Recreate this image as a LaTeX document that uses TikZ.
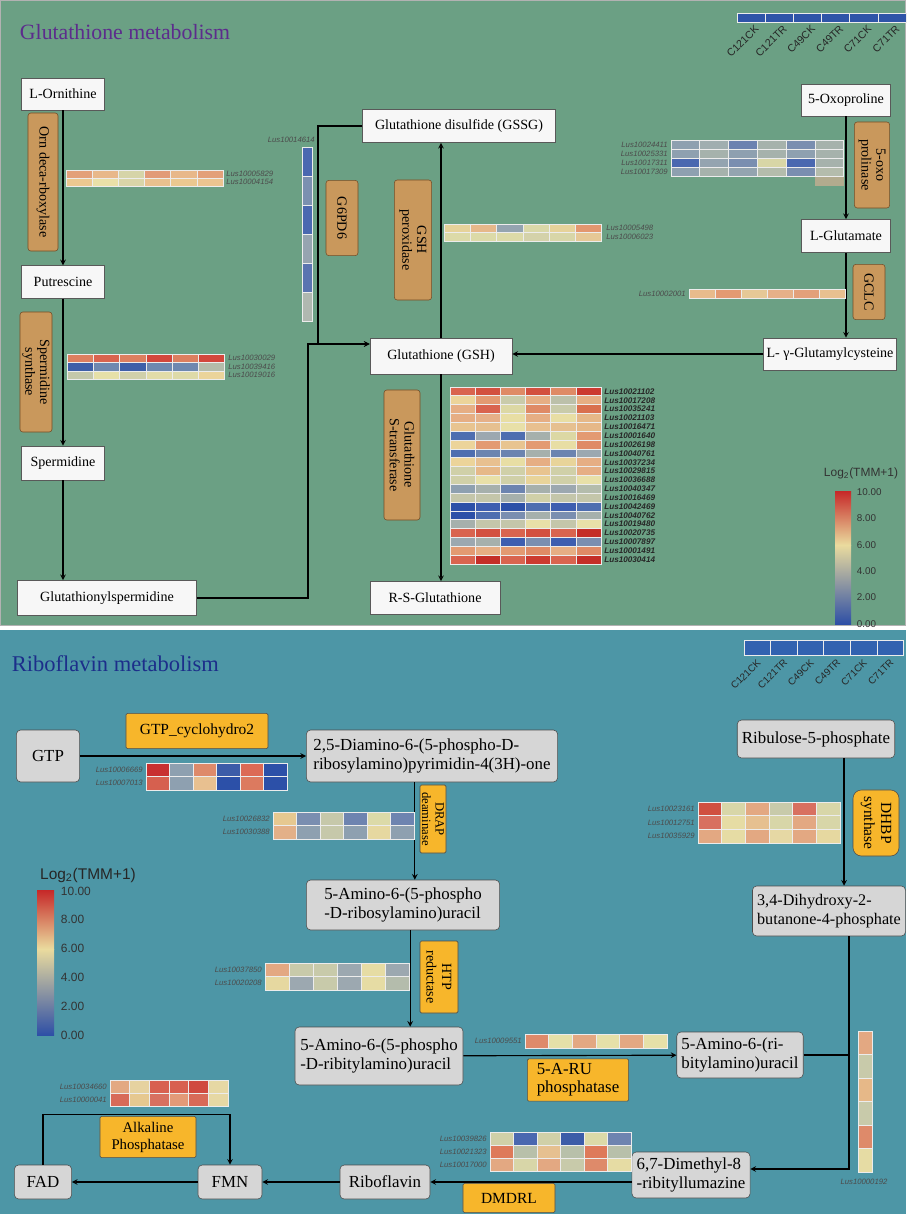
\documentclass[tikz,border=0pt]{standalone}
\usepackage{fontspec}
\setmainfont{Liberation Serif}
\setsansfont{Liberation Sans}
\usetikzlibrary{arrows,positioning}

\definecolor{gbg}{RGB}{107,160,132}
\definecolor{bbg}{RGB}{77,150,166}
\definecolor{enzbrown}{RGB}{201,152,92}
\definecolor{enzorange}{RGB}{247,182,43}
\definecolor{hdblue}{HTML}{2E54A8}
\definecolor{ttlpurple}{RGB}{92,44,140}
\definecolor{ttlblue}{RGB}{28,46,138}
\definecolor{lgred}{HTML}{C62828}
\definecolor{lgora}{HTML}{E0845E}
\definecolor{lgyel}{HTML}{EADB9E}
\definecolor{lggray}{HTML}{A9B2B0}
\definecolor{lgblue}{HTML}{2E4FA6}

\tikzstyle{metab} = [rectangle, draw=gray!70!black, fill=white!94!gray, font=\fontsize{10}{12}\selectfont, inner sep=2pt]
\tikzstyle{enzyme} = [rectangle, rounded corners=2pt, draw=brown!60!black, fill=enzbrown, rotate=-90, align=center, font=\fontsize{10}{10.5}\selectfont, inner sep=1pt]
\tikzstyle{metabb} = [rectangle, rounded corners=3pt, draw=gray!60!black, fill=gray!32, align=left, font=\fontsize{12}{13.5}\selectfont]
\tikzstyle{enzymeb} = [rectangle, rounded corners=1pt, draw=gray!60!black, fill=enzorange, align=left, font=\fontsize{11}{12}\selectfont]
\tikzstyle{arrow} = [thick,->,>=stealth]
\tikzstyle{link} = [thick]
\tikzstyle{hmline} = [draw=white!85!gray, line width=0.5pt]
\tikzstyle{lab} = [font=\sffamily\itshape\fontsize{5.5}{6}\selectfont, text=black!70, inner sep=0pt]
\tikzstyle{gstlab} = [font=\sffamily\bfseries\itshape\fontsize{5.8}{6}\selectfont, text=black!85, inner sep=0pt, anchor=west]
\tikzstyle{colhead} = [font=\sffamily\fontsize{7.5}{8}\selectfont, text=black!85, rotate=45, anchor=east, inner sep=0pt]
\tikzstyle{legnum} = [font=\sffamily\fontsize{7}{8}\selectfont, text=black!80, anchor=west, inner sep=0.5pt]

\newcommand{\hmrow}[5]{%
  \edef\hmlist{#5}%
  \foreach \hc [count=\hi from 0] in \hmlist {%
    \definecolor{hmc}{HTML}{\hc}%
    \fill[hmc] ({#1+\hi*#3},{#2}) rectangle ++(#3,#4);
    \draw[hmline] ({#1+\hi*#3},{#2}) rectangle ++(#3,#4);
  }}
\newcommand{\hmcol}[5]{%
  \edef\hmlist{#5}%
  \foreach \hc [count=\hi from 0] in \hmlist {%
    \definecolor{hmc}{HTML}{\hc}%
    \fill[hmc] ({#1},{#2+\hi*#4}) rectangle ++(#3,#4);
    \draw[hmline] ({#1},{#2+\hi*#4}) rectangle ++(#3,#4);
  }}

\begin{document}
\begin{tikzpicture}[x=0.025cm, y=-0.025cm]
    \useasboundingbox (0,0) rectangle (906,1214);
    \fill[white] (0,0) rectangle (906,1214);
    \fill[gbg] (0,0) rectangle (906,626);
    \draw[gray!60, line width=0.6pt] (0.5,0.5) rectangle (905.5,625.5);
    \fill[bbg] (0,630) rectangle (906,1214);

    % Glutathione metabolism
    \node (ttop) [anchor=west, text=ttlpurple, font=\fontsize{15.5}{17}\selectfont] at (15,32) {Glutathione metabolism};
    \hmrow{737}{13}{28.2}{9}{2E54A8,2E54A8,2E54A8,2E54A8,2E54A8,2E54A8}
    \foreach \t [count=\ti from 0] in {C121CK,C121TR,C49CK,C49TR,C71CK,C71TR}
        \node (hta\ti) [colhead] at ({757+\ti*28.2},27) {\t};

    \node (orn) [metab, minimum width=2.08cm, minimum height=0.8cm] at (63,94) {L-Ornithine};
    \node (put) [metab, minimum width=2.08cm, minimum height=0.82cm] at (63,282) {Putrescine};
    \node (spd) [metab, minimum width=2.08cm, minimum height=0.85cm] at (63,463) {Spermidine};
    \node (gsp) [metab, minimum width=4.48cm, minimum height=0.88cm] at (107,598) {Glutathionylspermidine};
    \node (gssg) [metab, minimum width=4.83cm, minimum height=0.83cm] at (459,126) {Glutathione disulfide (GSSG)};
    \node (gsh) [metab, minimum width=3.55cm, minimum height=0.9cm] at (441,356) {Glutathione (GSH)};
    \node (rsg) [metab, minimum width=3.25cm, minimum height=0.83cm] at (435,598) {R-S-Glutathione};
    \node (oxo) [metab, minimum width=2.23cm, minimum height=0.8cm] at (846,100) {5-Oxoproline};
    \node (glu) [metab, minimum width=2.23cm, minimum height=0.83cm] at (846,236) {L-Glutamate};
    \node (gcys) [metab, minimum width=3.13cm, minimum height=0.8cm] at (830,354) {L- γ-Glutamylcysteine};

    \node (ornd) [enzyme, minimum width=3.45cm, minimum height=0.75cm] at (43,182) {Orn deca-rboxylase};
    \node (spds) [enzyme, minimum width=3cm, minimum height=0.8cm] at (36,372) {Spermidine\\synthase};
    \node (g6pd) [enzyme, minimum width=1.88cm, minimum height=0.8cm] at (342,218) {G6PD6};
    \node (gpx) [enzyme, minimum width=3cm, minimum height=0.93cm] at (413,240) {GSH\\peroxidase};
    \node (gstr) [enzyme, minimum width=3.25cm, minimum height=0.9cm] at (402,455) {Glutathione\\S-transferase};
    \node (oxop) [enzyme, minimum width=2.15cm, minimum height=0.88cm] at (872,165) {5-oxo\\prolinase};
    \node (gclc) [enzyme, minimum width=1.38cm, minimum height=0.8cm] at (869,292) {GCLC};

    \draw[arrow] (orn) -- (put);
    \draw[arrow] (put) -- (spd);
    \draw[arrow] (spd) -- (spd |- gsp.north);
    \coordinate (gk) at (308,344);
    \coordinate (gr) at (318,344);
    \draw[arrow] (gsp.east) -| (gk) -- (gk -| gsh.west);
    \draw[arrow] (gssg.west) -| (gr) -- (gr -| gsh.west);
    \draw[arrow] (gsh.north) -- (gsh.north |- gssg.south);
    \draw[arrow] (gsh.south) -- (gsh.south |- rsg.north);
    \draw[arrow] (oxo) -- (glu);
    \draw[arrow] (glu) -- (glu |- gcys.north);
    \draw[arrow] (gcys) -- (gcys -| gsh.east);

    \hmrow{66}{170}{26.2}{8}{E3A07A,E8B88A,D6D4A8,E29A78,E8B88A,E3A07A}
    \hmrow{66}{178}{26.2}{8}{EBC890,EAE0A8,D9D5A8,E9C08E,EBC890,EBC490}
    \node (la1) [lab, anchor=west] at (226,174) {Lus10005829};
    \node (la2) [lab, anchor=west] at (226,182) {Lus10004154};

    \hmrow{67}{354}{26.3}{8.5}{DD7F5F,D9644F,DD7F5F,D3473C,DD7F5F,D3473C}
    \hmrow{67}{362.5}{26.3}{8.5}{3E5FA8,6E88B0,3E5FA8,6E88B0,6E88B0,B4BCAA}
    \hmrow{67}{371}{26.3}{8.5}{C4C8AA,E6E0A8,D0D0AA,E2DCA8,DEDAA8,EBD49A}
    \node (lb1) [lab, anchor=west] at (228,358) {Lus10030029};
    \node (lb2) [lab, anchor=west] at (228,366.5) {Lus10039416};
    \node (lb3) [lab, anchor=west] at (228,375) {Lus10019016};

    \hmcol{302}{147}{10}{29}{4A68B0,7B90B0,4A68B0,96A4B0,5A74B0,B0B8B0}
    \node (lc1) [lab, anchor=east] at (315,140) {Lus10014614};

    \hmrow{671}{140}{28.8}{9}{8EA0B0,A0AEB0,6C82B0,A6B2AC,7A8EB0,A6B2AC}
    \hmrow{671}{149}{28.8}{9}{8EA0B0,A6B2AC,8EA0B0,A6B2AC,8EA0B0,A6B2AC}
    \hmrow{671}{158}{28.8}{9}{4A68B0,94A4B0,7A8EB0,D8D6A6,4A68B0,A6B2AC}
    \hmrow{671}{167}{28.8}{9}{8EA0B0,A6B2AC,94A4B0,B4BCAC,7A8EB0,B4BCAC}
    \fill[gray!40!lgyel!80!gray] (815,177) rectangle (844,186);
    \node (ld1) [lab, anchor=east] at (668,144.5) {Lus10024411};
    \node (ld2) [lab, anchor=east] at (668,153.5) {Lus10025331};
    \node (ld3) [lab, anchor=east] at (668,162.5) {Lus10017311};
    \node (ld4) [lab, anchor=east] at (668,171.5) {Lus10017309};

    \hmrow{444}{224}{26.3}{8.5}{E6D29A,E6B88A,94A4B0,DAD8A8,E6D29A,E3976F}
    \hmrow{444}{232.5}{26.3}{8.5}{DCDAA8,DCDAA8,DCDAA8,D4D2AA,D8D6A8,E6C896}
    \node (le1) [lab, anchor=west] at (606,228) {Lus10005498};
    \node (le2) [lab, anchor=west] at (606,237) {Lus10006023};

    \hmrow{689}{289}{26}{9}{E8BB8C,E39A72,E6C896,E6B088,E3A07A,E8C090}
    \node (lf1) [lab, anchor=east] at (686,293.5) {Lus10002001};

    \foreach \gr [count=\gri from 0] in {{D9644F,D3503F,DF8A66,D3503F,DF8A66,CC3A30},
        {ECD49A,E39A72,C9CBAA,E6AE84,BCC0AA,E6AE84},{E6AE84,D9644F,DCD8A4,DF8A66,C9CBAA,D9704F},
        {E6AE84,E6B088,E8DEA4,E6AE84,E8DEA4,E6B888},{E8C490,E6C090,E8E0A8,E8C090,E6C090,E6B888},
        {4E6EB0,9CA8B0,4E6EB0,A6B0AC,DCD8A4,E39A72},{ECD49A,E39A72,E8C490,E39A72,E8DEA4,DF8A66},
        {4E6EB0,6C84B0,6C84B0,A6B0AC,6C84B0,9CA8B0},{ECD49A,E8C090,E8DEA4,E6AE84,E8D49A,E6AE84},
        {D0D0A8,E6B888,D0D0A8,E8C490,D0D0A8,E6AE84},{D0D0A8,E8E0A8,D0D0A8,E8D49A,D0D0A8,E8E0A8},
        {8EA0B0,A6B0AC,6C84B0,A6B0AC,9CA8B0,B4BCAC},{C4C6AA,C4C6AA,A6B0AC,D0D0A8,C4C6AA,C4C6AA},
        {2C50A8,3E5EB0,2C50A8,4E6EB0,3E5EB0,4E6EB0},{2C50A8,4E6EB0,7A8EB0,A6B0AC,7A8EB0,A6B0AC},
        {A6B0AC,C4C6AA,C4C6AA,E8E0A8,C4C6AA,E8E0A8},{D9644F,D3503F,D9644F,D3503F,D9644F,C42E28},
        {9CA8B0,A6B0AC,3E5EB0,7A8EB0,3E5EB0,7A8EB0},{E39A72,E6AE84,E39A72,DF8A66,E6AE84,DF8A66},
        {D9644F,C42E28,D9644F,CC3A30,D9644F,C42E28}}
        \hmrow{450}{387+\gri*8.85}{25.2}{8.85}{\gr};
    \foreach \g [count=\gi from 0] in {Lus10021102,Lus10017208,Lus10035241,Lus10021103,Lus10016471,
        Lus10001640,Lus10026198,Lus10040761,Lus10037234,Lus10029815,Lus10036688,Lus10040347,
        Lus10016469,Lus10042469,Lus10040762,Lus10019480,Lus10020735,Lus10007897,Lus10001491,Lus10030414}
        \node (gl\gi) [gstlab] at (604,{391.4+\gi*8.85}) {\g};

    \node (lgt) [font=\sffamily\fontsize{8.5}{9}\selectfont, text=black!80] at (861,473) {Log\textsubscript{2}(TMM+1)};
    \shade[top color=lgred, middle color=lgora, bottom color=lgyel] (835,491) rectangle (851,545);
    \shade[top color=lgyel, middle color=lggray, bottom color=lgblue] (835,545) rectangle (851,624);
    \foreach \v [count=\vi from 0] in {10.00,8.00,6.00,4.00,2.00,0.00}
        \node (lv\vi) [legnum] at (856,{492+\vi*26.4}) {\v};

    % Riboflavin metabolism
    \node (tbot) [anchor=west, text=ttlblue, font=\fontsize{16}{18}\selectfont] at (7,664) {Riboflavin metabolism};
    \hmrow{744}{640}{26.6}{15}{3262B0,3262B0,3262B0,3262B0,3262B0,3262B0}
    \foreach \t [count=\ti from 0] in {C121CK,C121TR,C49CK,C49TR,C71CK,C71TR}
        \node (htb\ti) [colhead, font=\sffamily\fontsize{7}{7}\selectfont] at ({759+\ti*26.6},661) {\t};

    \node (gtp) [metabb, minimum width=1.58cm, minimum height=1.3cm] at (48,756) {GTP};
    \node (dap) [metabb, minimum width=6.28cm, minimum height=1.3cm] at (432,756) {2,5-Diamino-6-(5-phospho-D-\\ribosylamino)pyrimidin-4(3H)-one};
    \node (rul) [metabb, minimum width=3.83cm, minimum height=0.95cm] at (816,739) {Ribulose-5-phosphate};
    \node (arp) [metabb, minimum width=4.83cm, minimum height=1.25cm] at (403,905) {5-Amino-6-(5-phospho\\-D-ribosylamino)uracil};
    \node (dhbp) [metabb, minimum width=3.8cm, minimum height=1.25cm, font=\fontsize{11.5}{13}\selectfont] at (829,911) {3,4-Dihydroxy-2-\\butanone-4-phosphate};
    \node (arpu) [metabb, minimum width=4.2cm, minimum height=1.45cm] at (379,1056) {5-Amino-6-(5-phospho\\-D-ribitylamino)uracil};
    \node (aru) [metabb, minimum width=3.05cm, minimum height=1.15cm] at (740,1055) {5-Amino-6-(ri-\\bitylamino)uracil};
    \node (dmrl) [metabb, minimum width=2.73cm, minimum height=1.15cm] at (691,1175) {6,7-Dimethyl-8\\-ribityllumazine};
    \node (rib) [metabb, minimum width=2.25cm, minimum height=0.85cm] at (385,1182) {Riboflavin};
    \node (fmn) [metabb, minimum width=1.6cm, minimum height=0.85cm] at (230,1182) {FMN};
    \node (fad) [metabb, minimum width=1.43cm, minimum height=0.85cm] at (43,1182) {FAD};

    \node (gtpc) [enzymeb, minimum width=3.55cm, minimum height=0.88cm] at (197,731) {GTP\_cyclohydro2};
    \node (drap) [enzymeb, rotate=-90, align=center, minimum width=1.7cm, minimum height=0.65cm, inner sep=1pt, font=\fontsize{9}{9.5}\selectfont] at (433,819) {DRAP\\deaminase};
    \node (dhbps) [enzymeb, rotate=-90, align=center, rounded corners=6pt, minimum width=1.65cm, minimum height=1.15cm] at (876,823) {DHBP\\synthase};
    \node (htp) [enzymeb, rotate=-90, align=center, minimum width=1.8cm, minimum height=0.95cm, font=\fontsize{10}{11}\selectfont] at (439,977) {HTP\\reductase};
    \node (aruph) [enzymeb, minimum width=2.53cm, minimum height=0.98cm, font=\fontsize{12}{13}\selectfont] at (578,1080) {5-A-RU\\phosphatase};
    \node (alkp) [enzymeb, align=center, minimum width=2.4cm, minimum height=1.03cm, font=\fontsize{10.5}{12}\selectfont] at (148,1137) {Alkaline\\Phosphatase};
    \node (dmdrl) [enzymeb, minimum width=2.3cm, minimum height=0.73cm] at (509,1198) {DMDRL};

    \draw[arrow] (gtp) -- (dap);
    \draw[arrow] ([xshift=-0.43cm]dap.south) -- ([xshift=-0.43cm]dap.south |- arp.north);
    \draw[arrow] ([xshift=0.18cm]arp.south) -- ([xshift=0.18cm]arp.south |- arpu.north);
    \draw[arrow] (arpu) -- (aru);
    \draw[arrow] ([xshift=0.7cm]rul.south) -- ([xshift=0.7cm]rul.south |- dhbp.north);
    \coordinate (dj) at ([xshift=0.5cm]dhbp.south);
    \draw[arrow] (dj) |- ([yshift=0.15cm]dmrl.east);
    \draw[link] (aru) -- (aru -| dj);
    \draw[arrow] (dmrl.west |- rib) -- (rib);
    \draw[arrow] (rib) -- (fmn);
    \draw[arrow] (fmn) -- (fad);
    \draw[arrow] (fad.north) |- ([yshift=1pt]alkp.north) -| (fmn.north);

    \hmrow{146}{763}{23.5}{13.5}{C83030,8EA0B0,DE8A6A,3C5CA8,DC6A55,2C50A8}
    \hmrow{146}{776.5}{23.5}{13.5}{D6604F,8EA0B0,E8C090,2C50A8,DC7A5F,2C50A8}
    \node (lg1) [lab, anchor=east] at (143,770) {Lus10006669};
    \node (lg2) [lab, anchor=east] at (143,783) {Lus10007013};

    \hmrow{273}{812}{23.5}{13.5}{E6C890,7A8EB0,C6C8AA,6E84B0,DCDAA8,6E84B0}
    \hmrow{273}{825.5}{23.5}{13.5}{E3B088,8EA0B0,C6C8AA,8EA0B0,E6D8A0,8EA0B0}
    \node (lh1) [lab, anchor=east] at (270,819) {Lus10026832};
    \node (lh2) [lab, anchor=east] at (270,832) {Lus10030388};

    \hmrow{698}{802}{23.7}{13.7}{D05040,D8D6A8,E3A882,C8CAAA,D87060,D8D6A8}
    \hmrow{698}{815.7}{23.7}{13.7}{D87060,E6DCA4,E6C090,D8D6A8,E3A882,D8D6A8}
    \hmrow{698}{829.4}{23.7}{13.7}{E3A882,E6DCA4,E3A882,E6D8A4,E3A882,E6D8A0}
    \node (li1) [lab, anchor=east] at (695,809) {Lus10023161};
    \node (li2) [lab, anchor=east] at (695,822.5) {Lus10012751};
    \node (li3) [lab, anchor=east] at (695,836) {Lus10035929};

    \hmrow{265}{963}{24}{13.5}{E3A882,C8CAAA,C8CAAA,9CA8B0,E6DCA4,9CA8B0}
    \hmrow{265}{976.5}{24}{13.5}{E6D8A0,9CA8B0,C8CAAA,9CA8B0,E6DCA4,B4BCAC}
    \node (lj1) [lab, anchor=east] at (262,970) {Lus10037850};
    \node (lj2) [lab, anchor=east] at (262,983) {Lus10020208};

    \hmrow{525}{1034}{23.7}{14}{DE8A6A,E6E0A8,E3A882,E6E0A8,E3A882,E6E0A8}
    \node (lk1) [lab, anchor=east] at (522,1041) {Lus10009551};

    \hmrow{110}{1080}{19.7}{13}{E3A882,E6D2A0,D86050,D86050,D04A40,E6D8A4}
    \hmrow{110}{1093}{19.7}{13}{D86A58,E6C890,D87060,E39A78,D86A58,E6D8A4}
    \node (ll1) [lab, anchor=east] at (107,1086.5) {Lus10034660};
    \node (ll2) [lab, anchor=east] at (107,1099.5) {Lus10000041};

    \hmrow{490}{1132}{23.5}{13}{D0D0A8,4A68B0,D0D0A8,3C5CA8,DCDAA8,6E84B0}
    \hmrow{490}{1145}{23.5}{13}{DE7A5A,B8C0AA,E6C090,B8C0AA,DE7A5A,B8C0AA}
    \hmrow{490}{1158}{23.5}{13}{E3A882,D8D6A8,E3A882,C8CAAA,DE8A6A,E6DCA4}
    \node (lm1) [lab, anchor=east] at (487,1138.5) {Lus10039826};
    \node (lm2) [lab, anchor=east] at (487,1151.5) {Lus10021323};
    \node (lm3) [lab, anchor=east] at (487,1164.5) {Lus10017000};

    \hmcol{858}{1031}{14}{23.5}{E3A882,C8CAAA,E6B888,C8CAAA,DE8A6A,E6DCA4}
    \node (ln1) [lab] at (864,1182) {Lus10000192};

    \node (lgb) [font=\sffamily\fontsize{11}{12}\selectfont, text=black!85] at (88,875) {Log\textsubscript{2}(TMM+1)};
    \shade[top color=lgred, middle color=lgora, bottom color=lgyel] (37,890) rectangle (54,949);
    \shade[top color=lgyel, middle color=lggray, bottom color=lgblue] (37,949) rectangle (54,1035);
    \foreach \v [count=\vi from 0] in {10.00,8.00,6.00,4.00,2.00,0.00}
        \node (lw\vi) [legnum, font=\sffamily\fontsize{8.5}{9}\selectfont] at (60,{891+\vi*28.8}) {\v};
\end{tikzpicture}
\end{document}
